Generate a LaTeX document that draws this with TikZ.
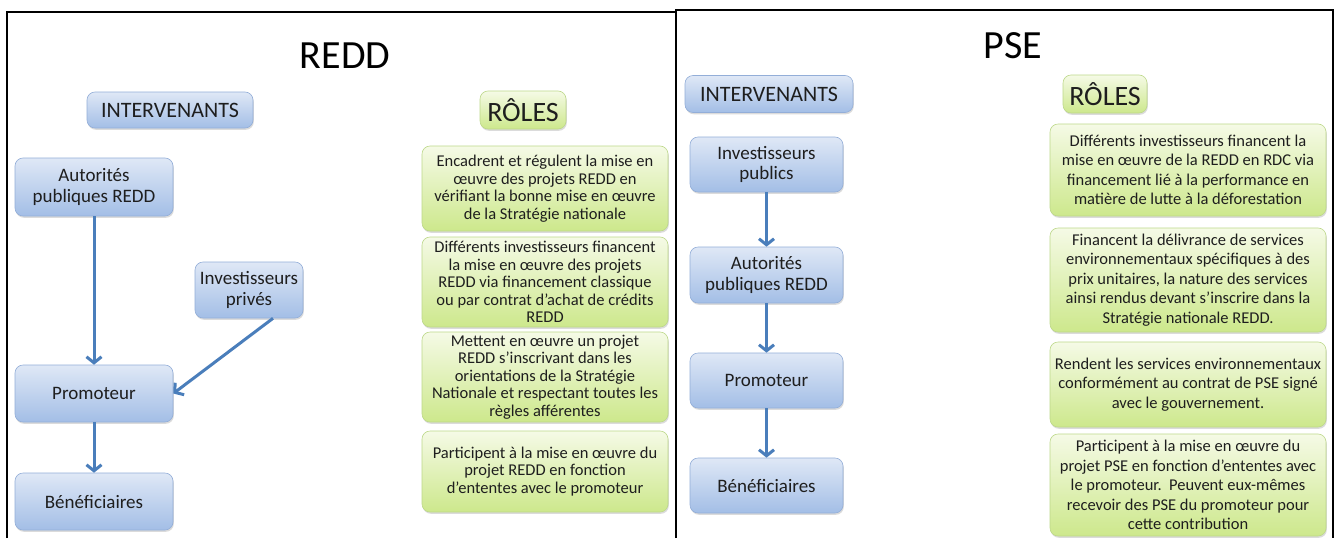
\documentclass[tikz,border=0pt]{standalone}
\usepackage{fontspec}
\setmainfont{Carlito}
\usetikzlibrary{arrows.meta,shadows,calc}

\definecolor{bluetop}{HTML}{DFE8F6}
\definecolor{bluebot}{HTML}{A3BEE6}
\definecolor{blueedge}{HTML}{93AED8}
\definecolor{greentop}{HTML}{F5FAE6}
\definecolor{greenbot}{HTML}{CDE88C}
\definecolor{greenedge}{HTML}{BDD88A}
\definecolor{arrowblue}{HTML}{4A7EBB}
\definecolor{txt}{HTML}{1E1E1E}

\tikzset{
  boxbase/.style={rounded corners=8pt, line width=0.6pt, inner sep=0pt,
    align=center, text=txt,
    drop shadow={shadow xshift=0.8pt, shadow yshift=-1.8pt, opacity=0.28}},
  bluebox/.style={boxbase, draw=blueedge, top color=bluetop, bottom color=bluebot,
    font=\fontsize{19}{20.5}\selectfont},
  greenbox/.style={boxbase, draw=greenedge, top color=greentop, bottom color=greenbot,
    font=\fontsize{16.5}{19.5}\selectfont, minimum width=#1},
  tightgreen/.style={font=\fontsize{16.5}{17.5}\selectfont},
  bluehead/.style={bluebox, font=\fontsize{22}{24}\selectfont},
  greenhead/.style={boxbase, draw=greenedge, top color=greentop, bottom color=greenbot,
    font=\fontsize{28}{28}\selectfont},
  titletext/.style={font=\fontsize{40}{40}\selectfont, anchor=base, text=black},
  conn/.style={draw=arrowblue, line width=3pt,
    -{Straight Barb[length=6pt,width=15pt]}},
  frameline/.style={draw=black, line width=2pt}
}

\begin{document}
\begin{tikzpicture}[x=1pt, y=-1pt]
\useasboundingbox[fill=white] (0,0) rectangle (1337,538);

% panel frames
\draw[frameline] (7,538) -- (7,12) -- (676,12);
\draw[frameline, line width=2.5pt] (676,538) -- (676,10) -- (1333,10) -- (1333,538);

% ---------- REDD panel ----------
\node[titletext] (tredd) at (345,68) {REDD};
\node[bluehead, minimum width=166pt, minimum height=36pt] (hint1) at (170,110) {INTERVENANTS};
\node[greenhead, minimum width=86pt, minimum height=38pt] (hrol1) at (523,110) {RÔLES};

\node[bluebox, minimum width=158pt, minimum height=58pt] (aut1) at (94,187) {Autorités\\publiques REDD};
\node[bluebox, minimum width=108pt, minimum height=56pt] (inv1) at (249,290) {Investisseurs\\privés};
\node[bluebox, minimum width=158pt, minimum height=57pt] (pro1) at (94,393.5) {Promoteur};
\node[bluebox, minimum width=158pt, minimum height=57pt] (ben1) at (94,501.5) {Bénéficiaires};

\draw[conn] (aut1.south) -- (pro1.north);
\draw[conn] ($(inv1.south)+(24,0)$) -- (pro1.east);
\draw[conn] (pro1.south) -- (ben1.north);

\node[greenbox=246pt, tightgreen, minimum height=85pt] (g1) at (545,188.5)
  {Encadrent et régulent la mise en\\œuvre des projets REDD en\\vérifiant la bonne mise en œuvre\\de la Stratégie nationale};
\node[greenbox=246pt, tightgreen, minimum height=90pt] (g2) at (545,282)
  {Différents investisseurs financent\\la mise en œuvre des projets\\REDD via financement classique\\ou par contrat d’achat de crédits\\REDD};
\node[greenbox=246pt, tightgreen, minimum height=90pt] (g3) at (545,377)
  {Mettent en œuvre un projet\\REDD s’inscrivant dans les\\orientations de la Stratégie\\Nationale et respectant toutes les\\règles afférentes};
\node[greenbox=246pt, tightgreen, minimum height=81pt] (g4) at (545,471.5)
  {Participent à la mise en œuvre du\\projet REDD en fonction\\d’ententes avec le promoteur};

% ---------- PSE panel ----------
\node[titletext] (tpse) at (1013,58) {PSE};
\node[bluehead, minimum width=168pt, minimum height=37pt] (hint2) at (769,94) {INTERVENANTS};
\node[greenhead, minimum width=84pt, minimum height=38pt] (hrol2) at (1105,94) {RÔLES};

\node[bluebox, minimum width=153pt, minimum height=55pt] (ipu2) at (766.5,164.5) {Investisseurs\\publics};
\node[bluebox, minimum width=153pt, minimum height=56pt] (aut2) at (766.5,275) {Autorités\\publiques REDD};
\node[bluebox, minimum width=153pt, minimum height=55pt] (pro2) at (766.5,380.5) {Promoteur};
\node[bluebox, minimum width=153pt, minimum height=55pt] (ben2) at (766.5,485.5) {Bénéficiaires};

\draw[conn] (ipu2.south) -- (aut2.north);
\draw[conn] (aut2.south) -- (pro2.north);
\draw[conn] (pro2.south) -- (ben2.north);

\node[greenbox=276pt, minimum height=92pt] (r1) at (1188,170)
  {Différents investisseurs financent la\\mise en œuvre de la REDD en RDC via\\financement lié à la performance en\\matière de lutte à la déforestation};
\node[greenbox=276pt, minimum height=104pt] (r2) at (1188,280)
  {Financent la délivrance de services\\environnementaux spécifiques à des\\prix unitaires, la nature des services\\ainsi rendus devant s’inscrire dans la\\Stratégie nationale REDD.};
\node[greenbox=276pt, minimum height=85pt] (r3) at (1188,384.5)
  {Rendent les services environnementaux\\conformément au contrat de PSE signé\\avec le gouvernement.};
\node[greenbox=276pt, minimum height=102pt] (r4) at (1188,485)
  {Participent à la mise en œuvre du\\projet PSE en fonction d’ententes avec\\le promoteur.\ \ Peuvent eux-mêmes\\recevoir des PSE du promoteur pour\\cette contribution};
\end{tikzpicture}
\end{document}
